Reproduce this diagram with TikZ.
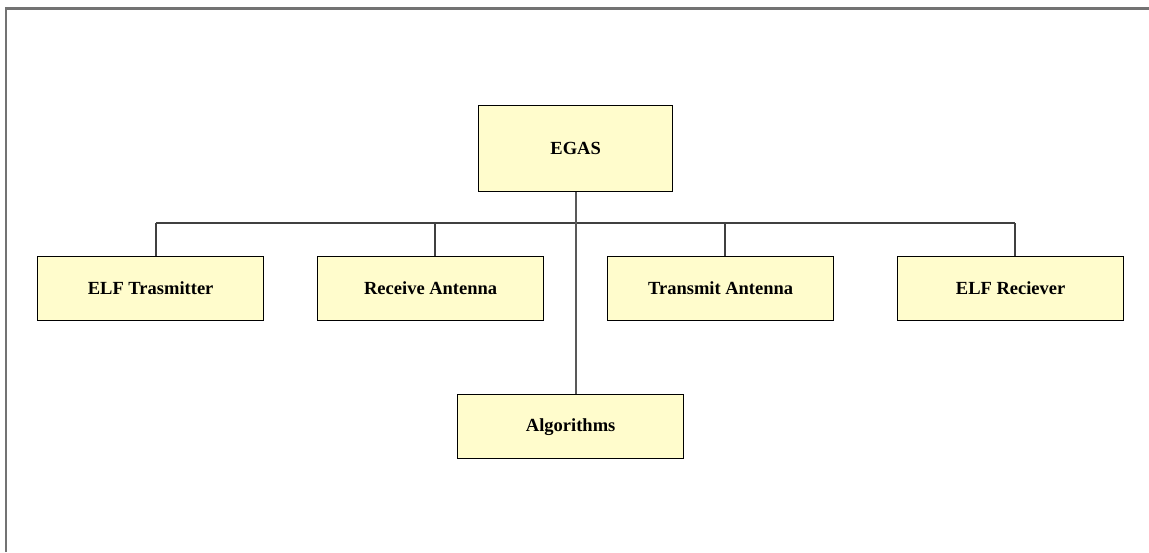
\documentclass[tikz,border=0pt]{standalone}
\usepackage{fontspec}
\setmainfont{Liberation Serif}
\begin{document}
\begin{tikzpicture}[x=1pt,y=-1pt,
  unitbox/.style={draw=black,line width=1.3pt,fill=yellow!20,minimum width=226pt,minimum height=64pt,inner sep=0pt,
    font=\fontsize{18.5}{22}\selectfont\bfseries,anchor=north west},
  topbox/.style={unitbox,minimum width=194pt,minimum height=86pt},
  link/.style={draw=black!75,line width=1.4pt},
  frame/.style={draw=black!55,line width=2.2pt}]
\useasboundingbox (0,0) rectangle (1149,552);
\coordinate (fa) at (6,552);
\coordinate (fb) at (6,8.5);
\coordinate (fc) at (1149,8.5);
\draw[frame] (fa) -- (fb) -- (fc);
\node[topbox] (egas) at (478,105) {EGAS};
\node[unitbox] (t1) at (37,256) {ELF Trasmitter};
\node[unitbox] (t2) at (317,256) {Receive Antenna};
\node[unitbox] (t3) at (607,256) {Transmit Antenna};
\node[unitbox] (t4) at (897,256) {ELF Reciever};
\node[unitbox] (alg) at (457,394) {Algorithms};
\coordinate (b1) at (156,223);
\coordinate (b2) at (435,223);
\coordinate (b3) at (725,223);
\coordinate (b4) at (1015,223);
\draw[link] (b1) -- (b4);
\draw[link,line width=1.8pt,draw=black!65] (egas.south) -- (egas.south |- alg.north);
\draw[link] (b1) -- (b1 |- t1.north);
\draw[link] (b2) -- (b2 |- t2.north);
\draw[link] (b3) -- (b3 |- t3.north);
\draw[link] (b4) -- (b4 |- t4.north);
\end{tikzpicture}
\end{document}
